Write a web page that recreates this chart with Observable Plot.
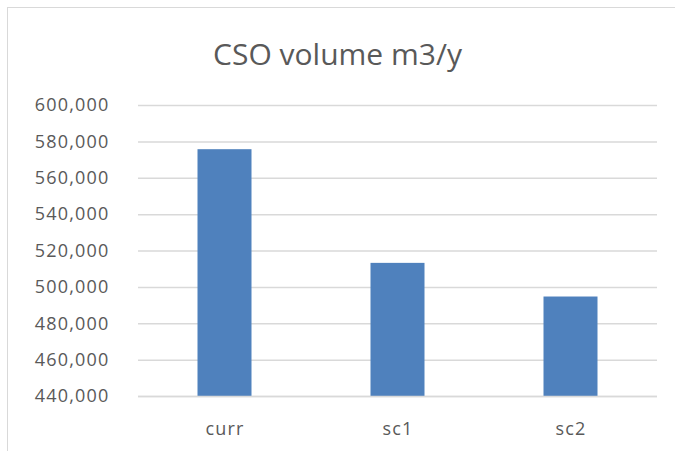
<!DOCTYPE html>
<html>
<head>
<meta charset="utf-8">
<script src="https://cdn.jsdelivr.net/npm/d3@7"></script>
<script src="https://cdn.jsdelivr.net/npm/@observablehq/plot@0.6"></script>
<style>
  html, body { margin: 0; padding: 0; background: #fff; }
  #wrap { position: relative; width: 675px; height: 451px; overflow: hidden; font-family: "Open Sans", sans-serif; }
  #frame { position: absolute; left: 7px; top: 7px; width: 720px; height: 520px; border: 1px solid #d9d9d9; box-sizing: border-box; }
  #title { position: absolute; left: 0; width: 675px; top: 34px; text-align: center; font-size: 30px; color: #595959; line-height: 40px; }
  #chart { position: absolute; left: 0; top: 0; }
</style>
</head>
<body>
<div id="wrap">
  <div id="frame"></div>
  <div id="title">CSO volume m3/y</div>
  <div id="chart"></div>
</div>
<script>
const categories = ["curr", "sc1", "sc2"];
const values = [575700, 513200, 494700];
const yTicks = [440000, 460000, 480000, 500000, 520000, 540000, 560000, 580000, 600000];

const data = categories.map((c, i) => ({cat: c, v: values[i]}));
const fmt = d3.format(",");

const chart = Plot.plot({
  width: 675,
  height: 451,
  marginTop: 105,
  marginBottom: 55,
  marginLeft: 138,
  marginRight: 18,
  style: {fontFamily: "Open Sans, sans-serif", fontSize: "18px", color: "#595959", background: "transparent"},
  x: {domain: categories, padding: 0, label: null, tickSize: 0, tickPadding: 26},
  y: {domain: [440000, 600000], ticks: yTicks, tickFormat: fmt, label: null, tickSize: 0, tickPadding: 29},
  marks: [
    Plot.gridY(yTicks, {stroke: "#d9d9d9", strokeOpacity: 1, strokeWidth: 1.5}),
    Plot.barY(data, {x: "cat", y1: 440000, y2: "v", fill: "#4f81bd", insetLeft: 59.5, insetRight: 59.5}),
    Plot.ruleY([440000], {stroke: "#d9d9d9", strokeWidth: 1.5})
  ]
});
chart.style.letterSpacing = "1.2px";
document.getElementById("chart").appendChild(chart);
</script>
</body>
</html>
